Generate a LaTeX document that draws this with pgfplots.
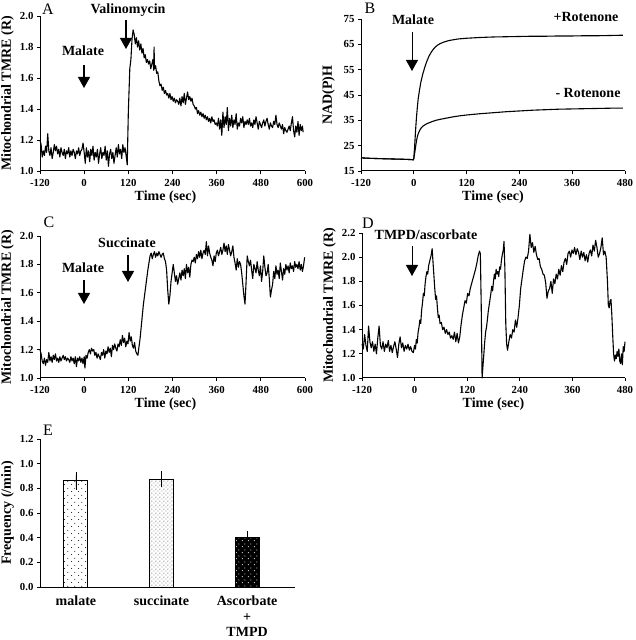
\documentclass[border=0pt]{standalone}
\usepackage{fontspec}
\setmainfont{Liberation Serif}
\usepackage{pgfplots}
\pgfplotsset{compat=1.18}
\usetikzlibrary{arrows.meta,patterns}

% dot fills for the bars of panel E
\pgfdeclarepatternformonly{sparsedots}{\pgfqpoint{0pt}{0pt}}{\pgfqpoint{7pt}{7pt}}{\pgfqpoint{7pt}{7pt}}{%
  \pgfpathcircle{\pgfqpoint{1.75pt}{1.75pt}}{0.55pt}%
  \pgfpathcircle{\pgfqpoint{5.25pt}{5.25pt}}{0.55pt}%
  \pgfusepath{fill}}
\pgfdeclarepatternformonly{densedots}{\pgfqpoint{0pt}{0pt}}{\pgfqpoint{4.4pt}{4.4pt}}{\pgfqpoint{4.4pt}{4.4pt}}{%
  \pgfpathcircle{\pgfqpoint{1.1pt}{1.1pt}}{0.5pt}%
  \pgfpathcircle{\pgfqpoint{3.3pt}{3.3pt}}{0.5pt}%
  \pgfusepath{fill}}
\pgfdeclarepatternformonly{whitedots}{\pgfqpoint{0pt}{0pt}}{\pgfqpoint{5.6pt}{5.6pt}}{\pgfqpoint{5.6pt}{5.6pt}}{%
  \pgfpathcircle{\pgfqpoint{1.4pt}{1.4pt}}{0.55pt}%
  \pgfpathcircle{\pgfqpoint{4.2pt}{4.2pt}}{0.55pt}%
  \pgfusepath{fill}}

\newcommand\tickfont{\bfseries\fontsize{10.8}{12}\selectfont}
\newcommand\labfont{\bfseries\fontsize{14}{16}\selectfont}
% tick number in bold text font, whatever mode the label is set in
\newcommand\tk[1]{\mbox{\tickfont\pgfmathprintnumber[assume math mode=true,#1]{\tick}}}

\pgfplotsset{
  panel/.style={
    scale only axis, anchor=south west, clip=false,
    axis lines*=left, tick align=outside, major tick length=3pt,
    axis line style={line width=1pt}, tick style={line width=0.9pt, black},
    xticklabel={\tk{}}, yticklabel={\tk{}},
    xticklabel style={yshift=-1.5pt},
    every axis y label/.style={at={(axis description cs:0,0.5)}, xshift=-32.5pt, rotate=90, anchor=center, font=\labfont},
    every axis x label/.style={at={(axis description cs:0.5,0)}, yshift=-26pt, anchor=center, font=\labfont},
  },
  onedec/.style={yticklabel={\tk{fixed, fixed zerofill, precision=1}}},
  trace/.style={black, line width=1.1pt, no markers, line join=round},
  bars/.style={ybar, bar width=0.28, bar shift=0pt, draw=black, line width=1pt,
    error bars/y dir=both, error bars/y explicit,
    error bars/error bar style={line width=0.6pt, black},
    error bars/error mark options={mark size=3pt, line width=0.6pt, black}},
}
\tikzset{
  lbl/.style={font=\labfont},
  letter/.style={font=\fontsize{16}{18}\selectfont},
  drop/.style={line width=1.2pt, -{Triangle[width=12pt,length=11pt]}},
}

\begin{document}
\begin{tikzpicture}
\useasboundingbox (0,0) rectangle (636pt,640pt);

% ---------------- A ----------------
\begin{axis}[panel, onedec, at={(40pt,469pt)}, width=265pt, height=155pt,
  xmin=-120, xmax=600, ymin=1, ymax=2,
  xtick={-120,0,...,600}, ytick={1.0,1.2,1.4,1.6,1.8,2.0},
  xlabel={Time (sec)}, ylabel={Mitochondrial TMRE (R)},
  xlabel style={xshift=-7pt}]
\addplot[trace] table {
t v
-120 1.20
-117 1.17
-114 1.09
-111 1.13
-108 1.10
-105 1.16
-102 1.12
-99 1.24
-96 1.13
-93 1.10
-90 1.15
-87 1.08
-84 1.12
-81 1.17
-78 1.13
-75 1.16
-72 1.11
-69 1.14
-66 1.09
-63 1.15
-60 1.12
-57 1.10
-54 1.14
-51 1.08
-48 1.13
-45 1.11
-42 1.15
-39 1.09
-36 1.13
-33 1.10
-30 1.14
-27 1.12
-24 1.08
-21 1.13
-18 1.11
-15 1.15
-12 1.10
-9 1.13
-6 1.14
-3 1.18
0 1.12
3 1.05
6 1.15
9 1.09
12 1.13
15 1.06
18 1.14
21 1.10
24 1.16
27 1.07
30 1.12
33 1.09
36 1.14
39 1.05
42 1.11
45 1.15
48 1.08
51 1.12
54 1.10
57 1.16
60 1.07
63 1.13
66 1.03
69 1.11
72 1.14
75 1.08
78 1.12
81 1.05
84 1.10
87 1.15
90 1.09
93 1.17
96 1.11
99 1.14
102 1.08
105 1.17
108 1.12
111 1.15
114 1.10
117 1.04
120 1.38
124 1.66
127 1.72
130 1.85
133 1.91
136 1.88
139 1.82
142 1.86
145 1.80
148 1.84
151 1.78
154 1.82
157 1.76
160 1.79
163 1.73
166 1.75
169 1.70
172 1.72
175 1.69
178 1.71
181 1.66
184 1.69
187 1.72
189 1.65
190 1.80
191 1.66
194 1.68
197 1.63
200 1.64
203 1.58
206 1.55
209 1.56
212 1.52
215 1.54
218 1.50
221 1.52
224 1.49
227 1.50
230 1.47
233 1.50
236 1.46
239 1.48
242 1.45
245 1.47
248 1.44
251 1.46
254 1.45
257 1.43
260 1.47
263 1.42
266 1.48
269 1.44
272 1.50
275 1.43
278 1.47
281 1.51
284 1.46
287 1.48
290 1.45
293 1.47
296 1.43
299 1.42
302 1.40
305 1.41
308 1.37
311 1.39
314 1.36
317 1.38
320 1.35
323 1.37
326 1.34
329 1.36
332 1.33
335 1.35
338 1.32
341 1.34
344 1.31
347 1.35
350 1.32
353 1.33
356 1.30
359 1.31
362 1.29
365 1.34
368 1.27
371 1.33
374 1.23
377 1.38
380 1.28
383 1.35
386 1.30
389 1.41
392 1.26
395 1.34
398 1.29
401 1.36
404 1.28
407 1.33
410 1.30
413 1.37
416 1.27
419 1.31
422 1.29
425 1.34
428 1.31
431 1.35
434 1.28
437 1.32
440 1.30
443 1.33
446 1.30
449 1.34
452 1.29
455 1.31
458 1.28
461 1.33
464 1.30
467 1.35
470 1.31
473 1.27
476 1.32
479 1.30
482 1.28
485 1.31
488 1.33
491 1.29
494 1.32
497 1.34
500 1.30
503 1.27
506 1.31
509 1.29
512 1.28
515 1.32
518 1.30
521 1.36
524 1.30
527 1.28
530 1.31
533 1.29
536 1.27
539 1.30
542 1.24
545 1.28
548 1.26
551 1.25
554 1.27
557 1.29
560 1.26
563 1.31
566 1.35
569 1.26
572 1.22
575 1.29
578 1.25
581 1.32
584 1.23
587 1.30
590 1.26
593 1.29
595 1.25
};
\end{axis}

% ---------------- B ----------------
\begin{axis}[panel, at={(361pt,469pt)}, width=264pt, height=152pt,
  xmin=-120, xmax=480, ymin=15, ymax=75,
  xtick={-120,0,...,480}, ytick={15,25,...,75},
  xlabel={Time (sec)}, ylabel={NAD(P)H}]
% + rotenone
\addplot[trace] table {
t v
-120 20.2
-100 20.0
-80 19.9
-60 19.8
-40 19.7
-20 19.6
-5 19.5
-1 19.4
0 20.0
2 25.0
4 31.0
6 36.0
8 40.0
10 43.5
13 47.0
16 50.0
20 53.0
25 56.0
30 58.5
35 60.5
40 62.0
45 63.2
50 64.1
55 64.8
60 65.3
70 66.0
80 66.5
90 66.8
100 67.1
120 67.4
150 67.7
180 67.9
210 68.0
240 68.1
270 68.2
300 68.2
330 68.3
360 68.3
390 68.4
420 68.4
450 68.5
475 68.6
};
% - rotenone
\addplot[trace] table {
t v
-120 20.2
-100 20.0
-80 19.9
-60 19.8
-40 19.7
-20 19.6
-5 19.5
-1 19.4
0 20.0
2 22.0
4 24.5
6 26.8
8 28.5
10 29.7
13 30.9
16 31.8
20 32.6
25 33.2
30 33.7
40 34.4
50 35.0
60 35.4
75 35.9
90 36.4
105 36.8
120 37.1
150 37.6
180 38.0
210 38.4
240 38.7
270 39.0
300 39.2
330 39.4
360 39.5
390 39.6
420 39.7
450 39.8
475 39.8
};
\end{axis}

% ---------------- C ----------------
\begin{axis}[panel, onedec, at={(40pt,262pt)}, width=265pt, height=142pt,
  xmin=-120, xmax=600, ymin=1, ymax=2,
  xtick={-120,0,...,600}, ytick={1.0,1.2,1.4,1.6,1.8,2.0},
  xlabel={Time (sec)}, ylabel={Mitochondrial TMRE (R)},
  xlabel style={xshift=-7pt}]
\addplot[trace] table {
t v
-120 1.20
-117 1.17
-114 1.12
-111 1.10
-108 1.14
-105 1.09
-102 1.13
-99 1.11
-96 1.18
-93 1.12
-90 1.15
-87 1.11
-84 1.16
-81 1.13
-78 1.17
-75 1.12
-72 1.14
-69 1.11
-66 1.15
-63 1.12
-60 1.14
-57 1.16
-54 1.13
-51 1.15
-48 1.12
-45 1.14
-42 1.13
-39 1.11
-36 1.15
-33 1.12
-30 1.14
-27 1.10
-24 1.15
-21 1.08
-18 1.14
-15 1.12
-12 1.15
-9 1.11
-6 1.14
-3 1.10
0 1.15
2 1.07
5 1.16
8 1.14
11 1.18
14 1.20
17 1.17
20 1.21
23 1.19
26 1.20
29 1.16
32 1.18
35 1.14
38 1.17
41 1.15
44 1.13
47 1.18
50 1.16
53 1.20
56 1.14
59 1.19
62 1.17
65 1.22
68 1.18
71 1.21
74 1.15
77 1.23
80 1.20
83 1.24
86 1.21
89 1.19
92 1.24
95 1.22
98 1.27
101 1.23
104 1.30
107 1.25
110 1.28
113 1.22
116 1.26
119 1.24
122 1.32
125 1.26
128 1.29
131 1.23
134 1.21
137 1.25
140 1.19
143 1.17
146 1.16
149 1.22
152 1.28
155 1.36
158 1.44
161 1.52
164 1.58
167 1.64
170 1.70
173 1.76
176 1.81
179 1.86
182 1.88
185 1.84
188 1.87
191 1.89
194 1.85
197 1.88
200 1.86
203 1.89
206 1.87
209 1.85
212 1.87
215 1.88
218 1.84
221 1.82
224 1.76
227 1.62
230 1.52
233 1.58
236 1.68
239 1.74
242 1.80
245 1.74
248 1.68
251 1.72
254 1.66
257 1.70
260 1.74
263 1.69
266 1.76
269 1.72
272 1.77
275 1.70
278 1.80
281 1.74
284 1.78
287 1.71
290 1.80
293 1.83
296 1.82
299 1.85
302 1.81
305 1.87
308 1.84
311 1.89
314 1.85
317 1.90
320 1.84
323 1.88
326 1.90
329 1.87
332 1.96
335 1.86
338 1.93
341 1.88
344 1.85
347 1.83
350 1.79
353 1.86
356 1.82
359 1.88
362 1.90
365 1.86
368 1.89
371 1.92
374 1.87
377 1.90
380 1.95
383 1.89
386 1.93
389 1.87
392 1.94
395 1.90
398 1.86
401 1.89
404 1.93
407 1.85
410 1.81
413 1.76
416 1.84
419 1.78
422 1.82
425 1.80
428 1.74
431 1.66
434 1.58
437 1.52
440 1.68
443 1.86
446 1.82
449 1.79
452 1.83
455 1.76
458 1.70
461 1.80
464 1.77
467 1.74
470 1.82
473 1.76
476 1.72
479 1.79
482 1.68
485 1.75
488 1.86
491 1.78
494 1.72
497 1.74
500 1.80
503 1.70
506 1.57
509 1.62
512 1.66
515 1.75
518 1.70
521 1.79
524 1.73
527 1.76
530 1.70
533 1.81
536 1.75
539 1.69
542 1.77
545 1.73
548 1.80
551 1.76
554 1.79
557 1.74
560 1.81
563 1.77
566 1.79
569 1.75
572 1.82
575 1.78
578 1.80
581 1.77
584 1.82
587 1.76
590 1.80
593 1.75
596 1.79
599 1.85
};
\end{axis}

% ---------------- D ----------------
\begin{axis}[panel, onedec, at={(362pt,262pt)}, width=263pt, height=145pt,
  xmin=-120, xmax=480, ymin=1, ymax=2.2,
  xtick={-120,0,...,480}, ytick={1.0,1.2,1.4,1.6,1.8,2.0,2.2},
  xlabel={Time (sec)}, ylabel={Mitochondrial TMRE (R)}]
\addplot[trace] table {
t v
-120 1.28
-117 1.24
-114 1.36
-111 1.27
-108 1.22
-105 1.43
-102 1.30
-99 1.25
-96 1.30
-93 1.22
-90 1.28
-87 1.20
-84 1.33
-81 1.43
-78 1.27
-75 1.24
-72 1.30
-69 1.22
-66 1.28
-63 1.25
-60 1.31
-57 1.22
-54 1.27
-51 1.21
-48 1.26
-45 1.30
-42 1.24
-39 1.17
-36 1.28
-33 1.34
-30 1.25
-27 1.29
-24 1.22
-21 1.27
-18 1.24
-15 1.28
-12 1.23
-9 1.26
-6 1.22
-3 1.21
0 1.27
2 1.24
4 1.32
6 1.29
8 1.38
10 1.42
12 1.48
14 1.45
16 1.56
18 1.62
20 1.70
22 1.68
24 1.78
26 1.84
28 1.88
30 1.86
32 1.93
34 1.96
36 1.99
38 2.02
40 2.07
42 1.96
44 1.85
46 1.74
48 1.65
50 1.68
52 1.58
54 1.50
56 1.52
58 1.45
61 1.46
64 1.40
67 1.42
70 1.37
73 1.40
76 1.36
79 1.38
82 1.33
85 1.35
88 1.32
91 1.38
94 1.30
97 1.37
100 1.29
103 1.34
106 1.44
109 1.52
112 1.58
115 1.64
118 1.62
121 1.70
124 1.68
127 1.74
130 1.78
133 1.82
136 1.86
139 1.90
142 1.95
145 2.01
148 2.05
150 2.03
152 1.60
154 1.00
156 1.10
158 1.20
160 1.30
162 1.38
164 1.42
166 1.48
168 1.55
170 1.60
172 1.65
174 1.70
176 1.76
178 1.72
180 1.80
182 1.86
184 1.82
186 1.90
188 1.86
190 1.88
192 1.84
194 1.92
196 1.90
198 1.97
200 2.02
202 2.05
204 2.13
206 1.90
208 1.45
210 1.28
212 1.23
215 1.30
218 1.36
221 1.33
224 1.40
227 1.38
230 1.48
233 1.42
236 1.50
239 1.60
242 1.74
245 1.82
248 1.90
251 1.97
254 2.00
257 1.99
260 2.05
263 2.19
266 2.08
269 2.12
272 2.04
275 2.09
278 2.02
281 1.98
284 1.99
287 1.92
290 1.90
293 1.86
296 1.85
299 1.79
302 1.66
305 1.72
308 1.74
311 1.80
314 1.70
317 1.82
320 1.78
323 1.86
326 1.82
329 1.90
332 1.85
335 1.93
338 1.88
341 1.96
344 1.99
347 1.94
350 2.03
353 2.05
356 2.00
359 2.06
362 2.03
365 2.08
368 2.02
371 2.07
374 2.04
377 1.98
380 2.05
383 2.00
386 2.04
389 1.97
392 2.02
395 1.96
398 2.03
401 2.06
404 2.01
407 2.10
410 2.05
413 2.14
416 2.08
419 2.00
422 2.03
425 2.08
428 2.16
431 2.02
434 2.05
437 2.00
440 1.80
442 1.60
444 1.58
446 1.64
448 1.65
450 1.52
452 1.35
454 1.20
456 1.14
458 1.19
460 1.16
462 1.22
464 1.18
466 1.24
468 1.14
470 1.12
472 1.20
474 1.11
476 1.26
478 1.22
480 1.30
};
\end{axis}

% ---------------- E ----------------
\begin{axis}[panel, onedec, at={(40pt,53pt)}, width=255pt, height=148pt,
  xmin=-0.42, xmax=2.56, ymin=0, ymax=1.2,
  ytick={0,0.2,0.4,0.6,0.8,1.0,1.2},
  xtick={0,1,2}, xticklabels={malate,succinate,{Ascorbate\\+\\TMPD}},
  xtick style={draw=none},
  xticklabel style={align=center, font=\bfseries\fontsize{14}{15.5}\selectfont, yshift=-1pt},
  ylabel={Frequency (/min)}]
\addplot[bars, pattern=sparsedots, pattern color=black] coordinates {(0,0.86) +- (0,0.05)};
\addplot[bars, pattern=densedots, pattern color=black] coordinates {(1,0.875) +- (0,0.04)};
\addplot[bars, fill=black, postaction={pattern=whitedots, pattern color=white}] coordinates {(2,0.40) +- (0,0.03)};
\end{axis}

% ---------------- annotations ----------------
\node[letter] at (48pt,631pt) {A};
\node[lbl] at (128pt,630pt) {Valinomycin};
\node[lbl] at (83pt,589pt) {Malate};
\draw[drop] (84pt,575pt) -- (84pt,552pt);
\draw[drop] (126pt,620pt) -- (126pt,591pt);

\node[letter] at (370pt,632pt) {B};
\node[lbl] at (413pt,620pt) {Malate};
\draw[drop, line width=0.9pt] (412pt,608pt) -- (412pt,569pt);
\node[lbl] at (586pt,623pt) {+Rotenone};
\node[lbl] at (588pt,547pt) {- Rotenone};

\node[letter] at (49pt,418pt) {C};
\node[lbl] at (127pt,397pt) {Succinate};
\node[lbl] at (83pt,372pt) {Malate};
\draw[drop] (84pt,360pt) -- (84pt,336pt);
\draw[drop] (128pt,385pt) -- (128pt,358pt);

\node[letter] at (368pt,417pt) {D};
\node[lbl] at (426pt,405pt) {TMPD/ascorbate};
\draw[drop, line width=0.9pt] (412pt,394pt) -- (412pt,364pt);

\node[letter] at (48pt,210pt) {E};
\end{tikzpicture}
\end{document}
